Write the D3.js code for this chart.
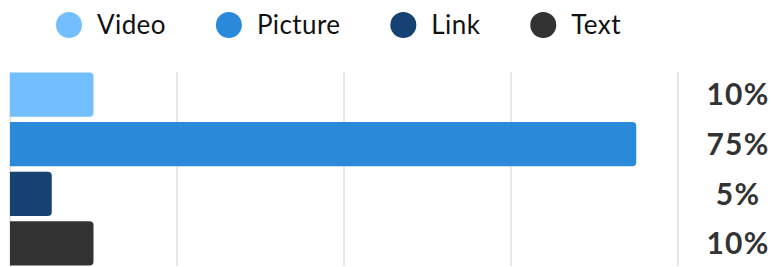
<!DOCTYPE html>
<html>
<head>
<meta charset="utf-8">
<script src="https://cdn.jsdelivr.net/npm/d3@7"></script>
<style>
  body { margin: 0; background: #fff; }
  text { font-family: Lato, "Open Sans", sans-serif; }
</style>
</head>
<body>
<svg id="chart" width="773" height="267"></svg>
<script>
// data
let categories = ["Video", "Picture", "Link", "Text"];
let shares = [10, 75, 5, 10];
let shareLabels = ["10%", "75%", "5%", "10%"];
let gridTicks = [0, 20, 40, 60, 80];
let colorsForCat = ["#72beff", "#2a8ad9", "#154273", "#333333"];

let svg = d3.select("#chart"),
    margin = {top: 72, right: 95, bottom: 1, left: 10},
    width = +svg.attr("width") - margin.left - margin.right,
    height = +svg.attr("height") - margin.top - margin.bottom,
    g = svg.append("g").attr("transform", "translate(" + margin.left + "," + margin.top + ")");

let x = d3.scaleLinear().domain([0, 80]).range([0, 668]);
let y = d3.scaleBand().domain(categories).range([0, height]).paddingInner(0.11).paddingOuter(0.01);

// grid
g.append("g")
    .selectAll("line")
    .data(gridTicks)
    .enter().append("line")
    .attr("x1", function (d) { return x(d); })
    .attr("x2", function (d) { return x(d); })
    .attr("y1", 0)
    .attr("y2", height)
    .attr("stroke", "#d0d0d0")
    .attr("stroke-width", 1);

// bars, rounded on the right side only
let r = 4;
g.append("g")
    .selectAll("path")
    .data(categories)
    .enter().append("path")
    .attr("fill", function (d, i) { return colorsForCat[i]; })
    .attr("d", function (d, i) {
        let w = x(shares[i]) - x(0), h = y.bandwidth(), y0 = y(d), x0 = x(0);
        return "M" + x0 + "," + y0 +
            "H" + (x0 + w - r) +
            "Q" + (x0 + w) + "," + y0 + " " + (x0 + w) + "," + (y0 + r) +
            "V" + (y0 + h - r) +
            "Q" + (x0 + w) + "," + (y0 + h) + " " + (x0 + w - r) + "," + (y0 + h) +
            "H" + x0 + "Z";
    });

// value labels (centred at x = 737 in page pixels)
g.append("g")
    .selectAll("text")
    .data(categories)
    .enter().append("text")
    .attr("x", 728)
    .attr("y", function (d) { return y(d) + y.bandwidth() / 2; })
    .attr("dy", "0.36em")
    .attr("text-anchor", "middle")
    .attr("font-size", 30)
    .attr("font-weight", "bold")
    .attr("letter-spacing", 1.2)
    .attr("fill", "#333")
    .text(function (d, i) { return shareLabels[i]; });

// legend
let legend = svg.append("g").attr("transform", "translate(0,25)");
let lx = 56;
categories.forEach(function (c, i) {
    let item = legend.append("g").attr("transform", "translate(" + lx + ",0)");
    item.append("circle").attr("cx", 13).attr("cy", 0).attr("r", 13).attr("fill", colorsForCat[i]);
    let t = item.append("text")
        .attr("x", 41)
        .attr("dy", "0.36em")
        .attr("font-size", 26)
        .attr("letter-spacing", 0.4)
        .attr("fill", "#111")
        .text(c);
    lx += 41 + t.node().getComputedTextLength() + 50;
});
</script>
</body>
</html>
